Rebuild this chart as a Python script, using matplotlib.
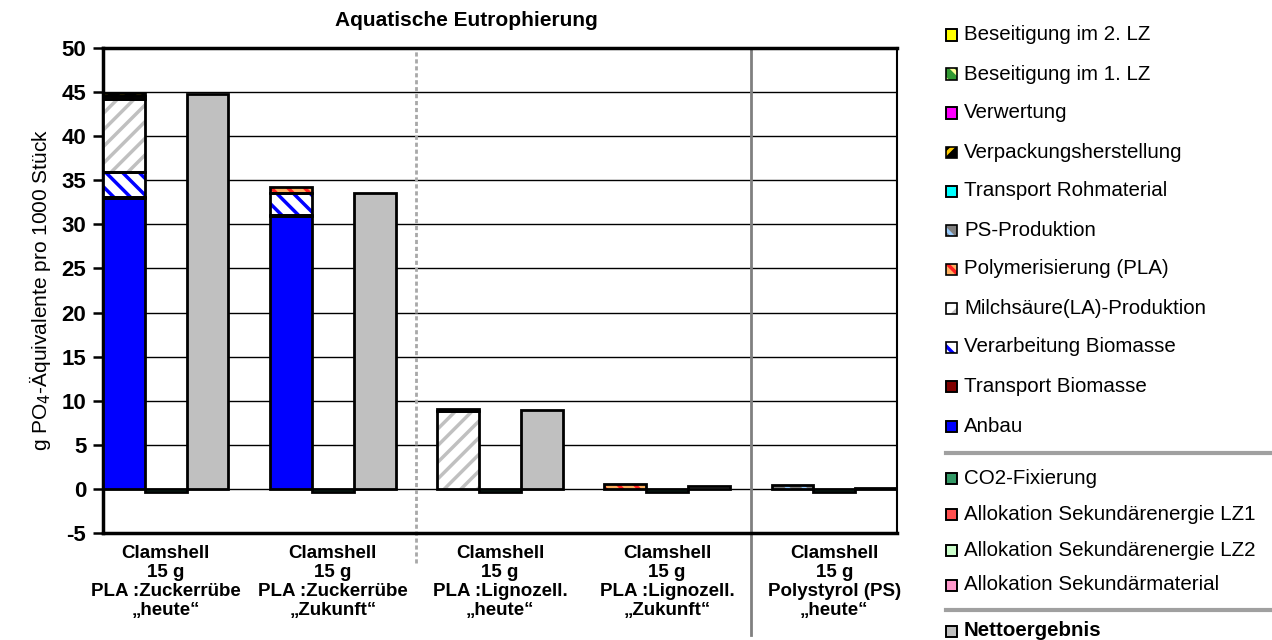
import numpy as np
import matplotlib.pyplot as plt
from matplotlib.patches import Rectangle
from matplotlib.lines import Line2D

plt.rcParams['font.family'] = ['Liberation Sans', 'DejaVu Sans']
plt.rcParams['hatch.linewidth'] = 2.5
plt.rcParams['axes.unicode_minus'] = False

# Daten
kategorien = ['Clamshell\n15 g\nPLA :Zuckerrübe\n„heute“',
              'Clamshell\n15 g\nPLA :Zuckerrübe\n„Zukunft“',
              'Clamshell\n15 g\nPLA :Lignozell.\n„heute“',
              'Clamshell\n15 g\nPLA :Lignozell.\n„Zukunft“',
              'Clamshell\n15 g\nPolystyrol (PS)\n„heute“']

anbau = [33.0, 31.0, 0.0, 0.0, 0.0]
transport_biomasse = [0.1, 0.1, 0.0, 0.0, 0.0]
verarbeitung = [2.8, 2.5, 0.0, 0.0, 0.0]
milchsaeure = [8.3, 0.0, 8.8, 0.0, 0.0]
polymerisierung = [0.4, 0.6, 0.3, 0.5, 0.0]
ps_produktion = [0.0, 0.0, 0.0, 0.0, 0.4]
transport_roh = [0.0, 0.0, 0.0, 0.0, 0.0]
verpackung = [0.3, 0.0, 0.0, 0.0, 0.0]
verwertung = [0.0, 0.0, 0.0, 0.0, 0.0]
beseitigung1 = [0.0, 0.0, 0.0, 0.0, 0.0]
beseitigung2 = [0.0, 0.0, 0.0, 0.0, 0.0]

co2_fixierung = [-0.3, -0.3, -0.3, -0.3, -0.3]
alloc_lz1 = [0.0, 0.0, 0.0, 0.0, 0.0]
alloc_lz2 = [0.0, 0.0, 0.0, 0.0, 0.0]
alloc_sek = [0.0, 0.0, 0.0, 0.0, 0.0]

netto = [44.8, 33.6, 8.9, 0.35, 0.15]

# (Name, Werte, Füllfarbe, Schraffur, Schraffurfarbe)
positiv = [
    ('Anbau', anbau, '#0000FF', None, None),
    ('Transport Biomasse', transport_biomasse, '#800000', None, None),
    ('Verarbeitung Biomasse', verarbeitung, 'white', '\\\\', '#0000FF'),
    ('Milchsäure(LA)-Produktion', milchsaeure, 'white', '//', '#C0C0C0'),
    ('Polymerisierung (PLA)', polymerisierung, '#FFB060', '\\\\', '#FF2020'),
    ('PS-Produktion', ps_produktion, '#808080', '\\\\', '#99CCFF'),
    ('Transport Rohmaterial', transport_roh, '#00FFFF', None, None),
    ('Verpackungsherstellung', verpackung, '#000000', '//', '#FFCC00'),
    ('Verwertung', verwertung, '#FF00FF', None, None),
    ('Beseitigung im 1. LZ', beseitigung1, '#339933', '\\\\', '#FFFF99'),
    ('Beseitigung im 2. LZ', beseitigung2, '#FFFF00', None, None),
]
negativ = [
    ('CO2-Fixierung', co2_fixierung, '#339966', None, None),
    ('Allokation Sekundärenergie LZ1', alloc_lz1, '#FF5050', None, None),
    ('Allokation Sekundärenergie LZ2', alloc_lz2, '#CCFFCC', None, None),
    ('Allokation Sekundärmaterial', alloc_sek, '#FF99CC', None, None),
]

fig = plt.figure(figsize=(12.72, 6.4), dpi=100)
ax = fig.add_axes([103 / 1272, 1 - 533 / 640, 794 / 1272, 485 / 640])

pos = np.arange(len(kategorien)) * 4


def balken(x, h, b, farbe, hatch, hcol):
    if h == 0:
        return
    if hatch:
        ax.bar(x, h, bottom=b, width=1, color=farbe, edgecolor=hcol,
               hatch=hatch, linewidth=0, zorder=3)
    else:
        ax.bar(x, h, bottom=b, width=1, color=farbe, linewidth=0, zorder=3)
    ax.bar(x, h, bottom=b, width=1, fill=False, edgecolor='black',
           linewidth=2, zorder=4)


for i, x in enumerate(pos):
    unten = 0.0
    for name, werte, farbe, hatch, hcol in positiv:
        balken(x, werte[i], unten, farbe, hatch, hcol)
        unten += werte[i]
    unten = 0.0
    for name, werte, farbe, hatch, hcol in negativ:
        balken(x + 1, werte[i], unten, farbe, hatch, hcol)
        unten += werte[i]
    balken(x + 2, netto[i], 0, '#C0C0C0', None, None)

ax.set_xlim(-0.5, pos[-1] + 2.5)
ax.set_ylim(-5, 50)
ax.set_yticks(np.arange(-5, 51, 5))
ax.yaxis.grid(True, color='black', linewidth=1)
ax.set_axisbelow(True)
ax.set_xticks(pos + 1)
ax.set_xticklabels(kategorien, fontsize=13.5, fontweight='bold', linespacing=1.15)
ax.tick_params(axis='x', length=0, pad=9)
ax.tick_params(axis='y', direction='out', length=7, width=1.8, labelsize=16, pad=5)
for t in ax.get_yticklabels():
    t.set_fontweight('bold')
for s in ['left', 'top', 'bottom']:
    ax.spines[s].set_linewidth(2.5)
ax.spines['right'].set_linewidth(1.5)
ax.set_ylabel('g PO$_4$-Äquivalente pro 1000 Stück', fontsize=15, labelpad=6)

# Trennlinien
trans = ax.get_xaxis_transform()
ax.plot([7, 7], [-0.062, 0.994], transform=trans, color='#A8A8A8',
        linestyle=(0, (1.5, 1)), linewidth=2, clip_on=False, zorder=2)
ax.plot([15, 15], [-0.21, 1.0], transform=trans, color='#808080',
        linewidth=2, clip_on=False, zorder=2)

fig.text(466 / 1272, 1 - 20 / 640, 'Aquatische Eutrophierung', fontsize=15,
         fontweight='bold', ha='center', va='center')

# Legende
W, H = 1272, 640


def eintrag(y, name, farbe, hatch, hcol, bold=False):
    r = Rectangle((946 / W, 1 - (y + 5.5) / H), 11 / W, 11 / H,
                  transform=fig.transFigure, facecolor=farbe,
                  edgecolor=hcol if hatch else 'black', hatch=hatch,
                  linewidth=0 if hatch else 1.2)
    fig.add_artist(r)
    fig.add_artist(Rectangle((946 / W, 1 - (y + 5.5) / H), 11 / W, 11 / H,
                             transform=fig.transFigure, fill=False,
                             edgecolor='black', linewidth=1.2))
    fig.text(964 / W, 1 - y / H, name, fontsize=14.8, va='center',
             fontweight='bold' if bold else 'normal')


ys1 = [35, 74, 113, 152, 191, 230, 269, 308, 347, 386, 426]
for y, (name, werte, farbe, hatch, hcol) in zip(ys1, positiv[::-1]):
    eintrag(y, name, farbe, hatch, hcol)
ys2 = [478, 514, 550, 585]
for y, (name, werte, farbe, hatch, hcol) in zip(ys2, negativ):
    eintrag(y, name, farbe, hatch, hcol)
eintrag(631, 'Nettoergebnis', '#C0C0C0', None, None, bold=True)

for y in [453, 610]:
    fig.add_artist(Line2D([946 / W, 1270 / W], [1 - y / H, 1 - y / H],
                          transform=fig.transFigure, color='#A0A0A0', linewidth=3))

plt.savefig('out.png', dpi=100)
